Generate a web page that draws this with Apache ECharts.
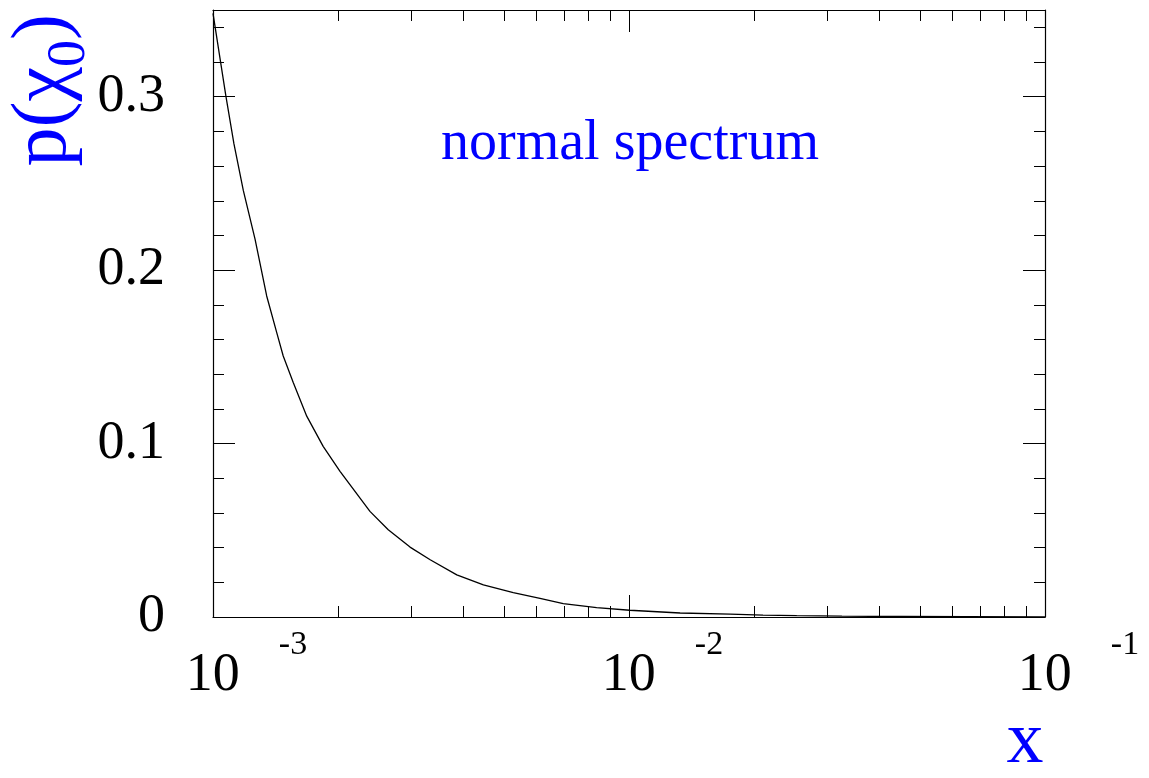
<!DOCTYPE html>
<html>
<head>
<meta charset="utf-8">
<script src="https://cdn.jsdelivr.net/npm/echarts@6/dist/echarts.min.js"></script>
<style>
html,body{margin:0;padding:0;background:#fff;}
#chart{width:1149px;height:778px;}
</style>
</head>
<body>
<div id="chart"></div>
<script>
// ---- data ----
const xValues = [0.001, 0.0010745, 0.001123, 0.001183, 0.001262, 0.001346, 0.001423, 0.001475, 0.00156, 0.00168,
  0.00184, 0.00202, 0.002384, 0.002638, 0.002976, 0.003327, 0.003855, 0.004467, 0.00527, 0.00611,
  0.00695, 0.00836, 0.01004, 0.01327, 0.0175, 0.021, 0.0253, 0.0325, 0.045, 0.065, 0.1];
const yValues = [0.348, 0.300, 0.2728, 0.2458, 0.2179, 0.1851, 0.164, 0.1505, 0.1351, 0.1158,
  0.0984, 0.0840, 0.0609, 0.0503, 0.0403, 0.033, 0.0243, 0.0185, 0.0141, 0.0108,
  0.0077, 0.0054, 0.0039, 0.0023, 0.0016, 0.0011, 0.0008, 0.0005, 0.0003, 0.00015, 0.00005];
const xTickBase = '10';
const xTickExponents = ['-3', '-2', '-1'];
const xMinorTicks = [0.002, 0.003, 0.004, 0.005, 0.006, 0.007, 0.008, 0.009,
  0.02, 0.03, 0.04, 0.05, 0.06, 0.07, 0.08, 0.09];
const yTitleMain = 'p(χ';
const yTitleSub = '0';
const yTitleEnd = ')';
const xTitle = 'x';
const annotation = 'normal spectrum';

const FONT = 'Liberation Serif';
const BLUE = '#0000ff';

const chart = echarts.init(document.getElementById('chart'), null, {renderer: 'canvas'});
const data = xValues.map((x, i) => [x, yValues[i]]);

function xAxisBase(pos) {
  return {
    type: 'log', logBase: 10, min: 0.001, max: 0.1, position: pos,
    splitLine: {show: false}, axisLabel: {show: false},
    axisLine: {show: false, onZero: false, lineStyle: {color: '#000', width: 1.2}},
    axisTick: {show: true, inside: true, length: 22, lineStyle: {color: '#000', width: 1}}
  };
}
function yAxisBase(pos, interval, len) {
  return {
    type: 'value', min: 0, max: 0.35, interval: interval, position: pos,
    splitLine: {show: false}, axisLabel: {show: false},
    axisLine: {show: false, onZero: false, lineStyle: {color: '#000', width: 1.2}},
    axisTick: {show: true, inside: true, length: len, lineStyle: {color: '#000', width: 1}}
  };
}

const xMain = xAxisBase('bottom');
xMain.axisLine.show = true;
xMain.axisLabel = {
  show: true, margin: 59, verticalAlign: 'middle', align: 'center',
  formatter: function (v) {
    const e = Math.round(Math.log10(v));
    const idx = e + 3;
    return '{b|' + xTickBase + '}{e|' + xTickExponents[idx] + '}';
  },
  rich: {
    b: {fontFamily: FONT, fontSize: 54, lineHeight: 54, color: '#000', padding: [0, 39, 0, 67], verticalAlign: 'middle'},
    e: {fontFamily: FONT, fontSize: 34, lineHeight: 34, color: '#000', padding: [0, 0, 62, 0], verticalAlign: 'middle'}
  }
};
const xMinorB = xAxisBase('bottom');
xMinorB.axisTick.length = 11;
xMinorB.axisTick.customValues = xMinorTicks;
const xTop = xAxisBase('top');
xTop.axisLine.show = true;
const xMinorT = xAxisBase('top');
xMinorT.axisTick.length = 11;
xMinorT.axisTick.customValues = xMinorTicks;

const yMain = yAxisBase('left', 0.1, 22);
yMain.axisLine.show = true;
yMain.axisLabel = {show: true, showMaxLabel: false, margin: 48, fontFamily: FONT, fontSize: 54, color: '#000'};
const yMinorL = yAxisBase('left', 0.02, 11);
const yRight = yAxisBase('right', 0.1, 22);
yRight.axisLine.show = true;
const yMinorR = yAxisBase('right', 0.02, 11);

chart.setOption({
  animation: false,
  backgroundColor: '#fff',
  grid: {left: 213, right: 104, top: 10, bottom: 161, containLabel: false},
  xAxis: [xMain, xMinorB, xTop, xMinorT],
  yAxis: [yMain, yMinorL, yRight, yMinorR],
  series: [{
    type: 'line', xAxisIndex: 0, yAxisIndex: 0, data: data,
    showSymbol: false, smooth: false,
    lineStyle: {color: '#000', width: 1.3}
  }],
  graphic: [
    {
      type: 'text', x: 630, y: 144,
      style: {text: annotation, fill: BLUE, font: '56px "' + FONT + '"', align: 'center', verticalAlign: 'middle'}
    },
    {
      type: 'text', x: 1025, y: 743,
      style: {text: xTitle, fill: BLUE, font: '74px "' + FONT + '"', align: 'center', verticalAlign: 'middle'}
    },
    {
      type: 'text', x: 45, y: 14, rotation: Math.PI / 2,
      style: {
        text: '{m|' + yTitleMain + '}{s|' + yTitleSub + '}{m|' + yTitleEnd + '}',
        align: 'right', verticalAlign: 'middle',
        rich: {
          m: {fontFamily: FONT, fontSize: 78, lineHeight: 78, fill: BLUE, verticalAlign: 'middle'},
          s: {fontFamily: FONT, fontSize: 54, lineHeight: 54, fill: BLUE, padding: [50, 0, 0, 0], verticalAlign: 'middle'}
        }
      }
    }
  ]
});
</script>
</body>
</html>
